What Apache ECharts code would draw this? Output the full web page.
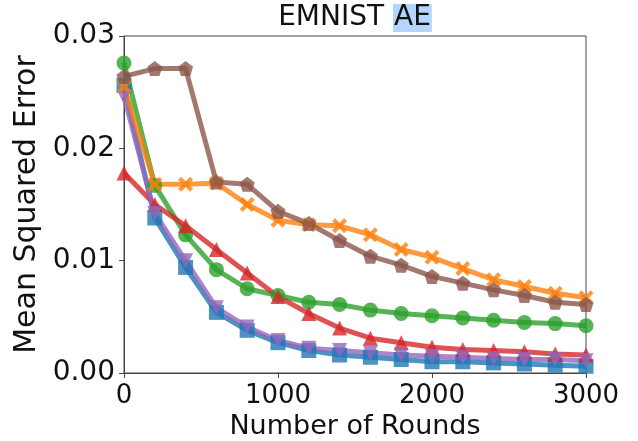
<!DOCTYPE html>
<html lang="en">
<head>
    <meta charset="UTF-8">
    <title>EMNIST AE</title>
    <style>
        html, body { margin: 0; padding: 0; background: #fff; }
        #main { width: 638px; height: 441px; }
    </style>
</head>
<body>
    <div id="main"></div>
    <script src="https://cdn.jsdelivr.net/npm/echarts@6/dist/echarts.min.js"></script>
    <script>
    // rounds on the x axis
    var rounds = [0, 200, 400, 600, 800, 1000, 1200, 1400, 1600, 1800, 2000, 2200, 2400, 2600, 2800, 3000];
    var xTicks = [0, 1000, 2000, 3000];
    var yTicks = [0.00, 0.01, 0.02, 0.03];

    // mean squared error per series
    var blueSq   = [0.0256, 0.0138, 0.0094, 0.0054, 0.0038, 0.0027, 0.0020, 0.0016, 0.0014, 0.0012, 0.0010, 0.0010, 0.0009, 0.0008, 0.0007, 0.0006];
    var greenCi  = [0.0276, 0.0167, 0.0123, 0.0092, 0.0075, 0.0069, 0.0063, 0.0061, 0.0056, 0.0053, 0.0051, 0.0049, 0.0047, 0.0045, 0.0044, 0.0042];
    var redTri   = [0.0178, 0.0150, 0.0131, 0.0110, 0.0089, 0.0068, 0.0053, 0.0040, 0.0031, 0.0027, 0.0023, 0.0021, 0.0020, 0.0019, 0.0017, 0.0016];
    var purpleTd = [0.0246, 0.0142, 0.0100, 0.0058, 0.0041, 0.0029, 0.0022, 0.0020, 0.0018, 0.0016, 0.0015, 0.0014, 0.0013, 0.0012, 0.0012, 0.0011];
    var orangeX  = [0.0255, 0.0168, 0.0168, 0.0169, 0.0150, 0.0136, 0.0132, 0.0131, 0.0123, 0.0110, 0.0103, 0.0093, 0.0083, 0.0077, 0.0071, 0.0067];
    var brownPt  = [0.0264, 0.0271, 0.0271, 0.0170, 0.0168, 0.0144, 0.0133, 0.0118, 0.0104, 0.0096, 0.0086, 0.0080, 0.0074, 0.0069, 0.0063, 0.0061];

    var xMark = 'path://M0,2 L2,0 L5,3 L8,0 L10,2 L7,5 L10,8 L8,10 L5,7 L2,10 L0,8 L3,5 Z';
    var pentagon = 'path://M5,0 L10,3.8 L8.1,10 L1.9,10 L0,3.8 Z';

    function pair(ys) {
        return rounds.map(function (r, i) { return [r, ys[i]]; });
    }

    function mk(name, ys, color, symbol, rot) {
        return {
            name: name,
            type: 'line',
            data: pair(ys),
            symbol: symbol,
            symbolSize: 15,
            symbolRotate: rot || 0,
            clip: true,
            lineStyle: { color: color, width: 5, opacity: 0.8 },
            itemStyle: { color: color, opacity: 0.8 }
        };
    }

    var font = 'DejaVu Sans';
    var axisCol = '#444';

    var myChart = echarts.init(document.getElementById('main'));
    var option = {
        animation: false,
        textStyle: { fontFamily: font },
        title: {
            text: 'EMNIST {hl|AE}',
            left: 355,
            textAlign: 'center',
            top: 1,
            padding: 0,
            textStyle: {
                fontFamily: font,
                fontSize: 28,
                fontWeight: 'normal',
                color: '#111',
                lineHeight: 34,
                rich: {
                    hl: {
                        fontFamily: font,
                        fontSize: 28,
                        color: '#111',
                        backgroundColor: '#b4d5fe',
                        padding: [0, 1, 0, 1],
                        lineHeight: 34
                    }
                }
            }
        },
        grid: {
            left: 124,
            right: 52,
            top: 36,
            bottom: 68,
            outerBoundsMode: 'none',
            containLabel: false,
            show: true,
            borderColor: axisCol,
            borderWidth: 1,
            backgroundColor: 'transparent'
        },
        xAxis: {
            type: 'value',
            min: 0,
            max: 3000,
            interval: 1000,
            name: 'Number of Rounds',
            nameLocation: 'middle',
            nameGap: 38,
            nameTextStyle: { fontFamily: font, fontSize: 27, color: '#111' },
            axisLine: { show: true, lineStyle: { color: axisCol, width: 1 } },
            axisTick: { show: true, length: 5, lineStyle: { color: axisCol } },
            axisLabel: {
                fontFamily: font, fontSize: 26, color: '#111', margin: 10,
                formatter: function (v) { return xTicks.indexOf(v) >= 0 ? String(v) : ''; }
            },
            splitLine: { show: false }
        },
        yAxis: {
            type: 'value',
            min: 0,
            max: 0.03,
            interval: 0.01,
            name: 'Mean Squared Error',
            nameLocation: 'middle',
            nameGap: 73,
            nameTextStyle: { fontFamily: font, fontSize: 30, color: '#111' },
            axisLine: { show: true, lineStyle: { color: axisCol, width: 1 } },
            axisTick: { show: true, length: 5, lineStyle: { color: axisCol } },
            axisLabel: {
                fontFamily: font, fontSize: 28, color: '#111', margin: 9,
                formatter: function (v) {
                    var t = yTicks.find(function (y) { return Math.abs(y - v) < 1e-9; });
                    return t === undefined ? '' : t.toFixed(2);
                }
            },
            splitLine: { show: false }
        },
        series: [
            mk('blue', blueSq, '#1f77b4', 'rect'),
            mk('green', greenCi, '#2ca02c', 'circle'),
            mk('red', redTri, '#d62728', 'triangle'),
            mk('purple', purpleTd, '#9467bd', 'triangle', 180),
            mk('orange', orangeX, '#ff7f0e', xMark),
            mk('brown', brownPt, '#8c564b', pentagon)
        ]
    };
    myChart.setOption(option);
    </script>
</body>
</html>
